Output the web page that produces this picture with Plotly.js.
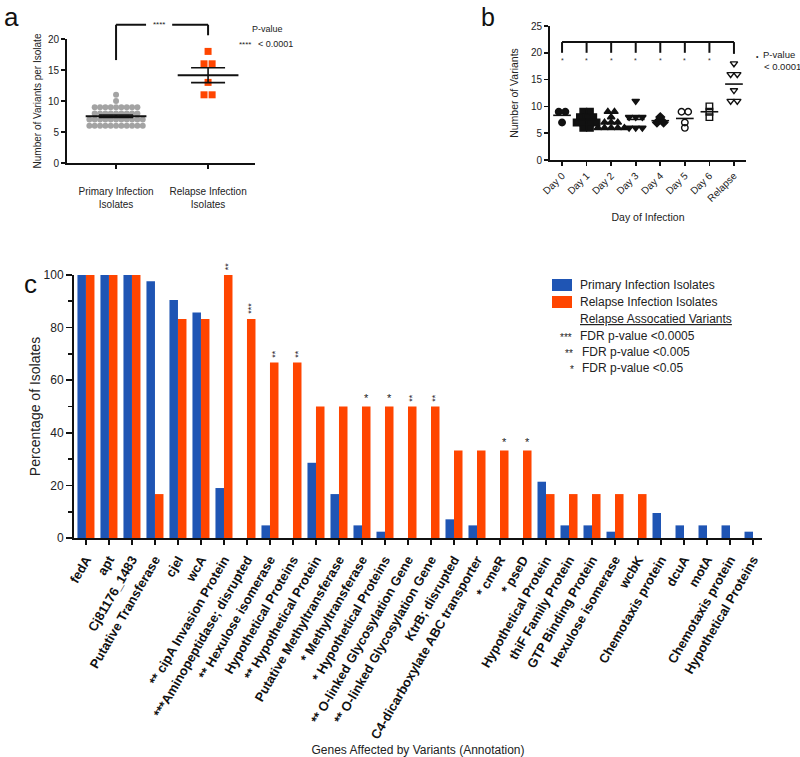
<!DOCTYPE html>
<html>
<head>
<meta charset="utf-8">
<script src="https://cdn.plot.ly/plotly-3.0.1.min.js"></script>
<style>html,body{margin:0;padding:0;background:#fff}#chart{width:800px;height:757px}</style>
</head>
<body>
<div id="chart"></div>
<script>
// ---------- Panel a / b data ----------
const dayLabels = ['Day 0', 'Day 1', 'Day 2', 'Day 3', 'Day 4', 'Day 5', 'Day 6', 'Relapse'];
const day0 = [9, 9, 7];
const day1 = [9, 9, 8, 8, 8, 7, 7, 7, 7, 6, 6];
const day2 = [9, 9, 8, 7, 7, 7, 6, 6, 6, 6, 6];
const day3 = [11, 8, 8, 8, 6, 6, 6];
const day4 = [8, 7, 7];
const day5 = [9, 9, 7, 6];
const day6 = [10, 9, 8];
const relapse = [18, 16, 16, 13, 11, 11];
const aCategories = ['Primary Infection<br>Isolates', 'Relapse Infection<br>Isolates'];

// ---------- Panel c data ----------
const genes = ['fedA', 'apt', 'Cj81176_1483', 'Putative Transferase', 'cjeI', 'wcA',
  '** cipA Invasion Protein', '***Aminopeptidase; disrupted', '** Hexulose isomerase',
  'Hypothetical Proteins', '** Hypothetical Protein', 'Putative Methyltransferase',
  '* Methyltransferase', '* Hypothetical Proteins', '** O-linked Glycosylation Gene',
  '** O-linked Glycosylation Gene', 'KtrB; disrupted', 'C4-dicarboxylate ABC transporter',
  '* cmeR', '* pseD', 'Hypothetical Protein', 'thiF Family Protein', 'GTP Binding Protein',
  'Hexulose isomerase', 'wcbK', 'Chemotaxis protein', 'dcuA', 'motA', 'Chemotaxis protein',
  'Hypothetical Proteins'];
const primaryPct = [100, 100, 100, 97.6, 90.5, 85.7, 19.0, 0, 4.8, 0, 28.6, 16.7, 4.8, 2.4, 0, 0,
  7.1, 4.8, 0, 0, 21.4, 4.8, 4.8, 2.4, 0, 9.5, 4.8, 4.8, 4.8, 2.4];
const relapsePct = [100, 100, 100, 16.7, 83.3, 83.3, 100, 83.3, 66.7, 66.7, 50, 50, 50, 50, 50, 50,
  33.3, 33.3, 33.3, 33.3, 16.7, 16.7, 16.7, 16.7, 16.7, 0, 0, 0, 0, 0];
const sigMarks = ['', '', '', '', '', '', '**', '***', '**', '**', '', '', '*', '*', '**', '**',
  '', '', '*', '*', '', '', '', '', '', '', '', '', '', ''];

// ---------- helpers ----------
const FONT = 'Liberation Sans, Arial, Helvetica, sans-serif';
const BLUE = '#1f55b4', ORANGE = '#ff4500', GRAY = '#a3a3a3';
const W = 800, H = 757;
const PX = x => x / W;
const PY = y => 1 - y / H;
function swarm(vals, center, step) {
  const counts = {}, seen = {};
  vals.forEach(v => counts[v] = (counts[v] || 0) + 1);
  return vals.map(v => {
    seen[v] = seen[v] === undefined ? 0 : seen[v] + 1;
    return center + (seen[v] - (counts[v] - 1) / 2) * step;
  });
}
const mean = a => a.reduce((s, v) => s + v, 0) / a.length;
function sem(a) {
  const m = mean(a);
  const sd = Math.sqrt(a.reduce((s, v) => s + (v - m) * (v - m), 0) / (a.length - 1));
  return sd / Math.sqrt(a.length);
}

const primary = [].concat(day0, day1, day2, day3, day4, day5, day6);
const dayGroups = [day0, day1, day2, day3, day4, day5, day6, relapse];
const daySymbols = ['circle', 'square', 'triangle-up', 'triangle-down', 'diamond', 'circle-open', 'square-open', 'triangle-down-open'];

// axis geometry
const aXdom = [PX(67), PX(255)], aYdom = [PY(163), PY(39)], aYrange = [0, 20];
const bXdom = [PX(550), PX(746)], bYdom = [PY(160), PY(26)];
const cXdom = [PX(74), PX(762)], cYdom = [PY(538), PY(275)];
const aY = v => aYdom[0] + (v - aYrange[0]) / (aYrange[1] - aYrange[0]) * (aYdom[1] - aYdom[0]);

const traces = [];
// Panel a
traces.push({type: 'scatter', mode: 'markers', xaxis: 'x', yaxis: 'y',
  x: swarm(primary, 0, 0.058), y: primary, name: 'Primary Infection Isolates',
  marker: {color: GRAY, size: 6, symbol: 'circle'}, hoverinfo: 'y'});
traces.push({type: 'scatter', mode: 'markers', xaxis: 'x', yaxis: 'y',
  x: swarm(relapse, 1, 0.088), y: relapse, name: 'Relapse Infection Isolates',
  marker: {color: ORANGE, size: 7, symbol: 'square'}, hoverinfo: 'y'});
const aMeans = [mean(primary), mean(relapse)];
traces.push({type: 'scatter', mode: 'lines', xaxis: 'x', yaxis: 'y',
  x: [-0.33, 0.33, null, 0.67, 1.33], y: [aMeans[0], aMeans[0], null, aMeans[1], aMeans[1]],
  line: {color: '#111', width: 2}, hoverinfo: 'skip'});
traces.push({type: 'scatter', mode: 'markers', xaxis: 'x', yaxis: 'y',
  x: [0, 1], y: aMeans, marker: {size: 1, color: 'rgba(0,0,0,0)'},
  error_y: {type: 'data', array: [sem(primary), sem(relapse)], visible: true, color: '#111', thickness: 1.6, width: 17},
  hoverinfo: 'skip'});

// Panel b
dayGroups.forEach((g, i) => {
  traces.push({type: 'scatter', mode: 'markers', xaxis: 'x2', yaxis: 'y2',
    x: swarm(g, i, 0.27), y: g, name: dayLabels[i],
    marker: {color: '#111', size: 6.5, symbol: daySymbols[i], line: {color: '#111', width: 1.4}}, hoverinfo: 'y'});
});
const bmx = [], bmy = [];
dayGroups.forEach((g, i) => { const m = mean(g); bmx.push(i - 0.36, i + 0.36, null); bmy.push(m, m, null); });
traces.push({type: 'scatter', mode: 'lines', xaxis: 'x2', yaxis: 'y2', x: bmx, y: bmy,
  line: {color: '#111', width: 1.6}, hoverinfo: 'skip'});

// Panel c
const idx = genes.map((g, i) => i);
traces.push({type: 'bar', xaxis: 'x3', yaxis: 'y3', x: idx, y: primaryPct, name: 'Primary Infection Isolates',
  marker: {color: BLUE, line: {width: 0}}});
traces.push({type: 'bar', xaxis: 'x3', yaxis: 'y3', x: idx, y: relapsePct, name: 'Relapse Infection Isolates',
  marker: {color: ORANGE, line: {width: 0}}});

const axisBase = {showline: true, linecolor: '#111', linewidth: 2, ticks: 'outside', tickcolor: '#111',
  tickwidth: 1.6, ticklen: 4, showgrid: false, zeroline: false, fixedrange: true,
  tickfont: {family: FONT, size: 10, color: '#222'}};

const shapes = [];
const line = (xref, yref, x0, y0, x1, y1, w) => ({type: 'line', xref, yref, x0, y0, x1, y1, line: {color: '#111', width: w || 2}});
// Panel a bracket
shapes.push(line('x', 'paper', 0, aY(16.6), 0, aY(22.3)));
shapes.push(line('x', 'paper', 0, aY(22.3), 0.326, aY(22.3)));
shapes.push(line('x', 'paper', 0.61, aY(22.3), 1, aY(22.3)));
shapes.push(line('x', 'paper', 1, aY(22.3), 1, aY(20.6)));
// Panel b bracket
shapes.push(line('x2', 'y2', 0, 22, 7, 22));
dayLabels.forEach((d, i) => shapes.push(line('x2', 'y2', i, 22, i, i === 7 ? 19.8 : 20)));
// Panel c legend boxes
shapes.push({type: 'rect', xref: 'paper', yref: 'paper', x0: PX(552), x1: PX(572), y0: PY(291), y1: PY(279), fillcolor: BLUE, line: {width: 0}});
shapes.push({type: 'rect', xref: 'paper', yref: 'paper', x0: PX(552), x1: PX(572), y0: PY(308), y1: PY(296), fillcolor: ORANGE, line: {width: 0}});

const annotations = [];
const txt = (x, y, text, size, opts) => Object.assign({xref: 'paper', yref: 'paper', x: PX(x), y: PY(y), text,
  showarrow: false, xanchor: 'left', yanchor: 'middle', font: {family: FONT, size, color: '#222'}}, opts || {});
// panel letters
annotations.push(txt(2, 17, 'a', 26, {font: {family: FONT, size: 26, color: '#111'}}));
annotations.push(txt(479, 17, 'b', 25, {font: {family: FONT, size: 25, color: '#111'}}));
annotations.push(txt(22, 284, 'c', 26, {font: {family: FONT, size: 26, color: '#111'}}));
// panel a p-value
annotations.push({xref: 'x', yref: 'paper', x: 0.47, y: aY(22.3), text: '****', showarrow: false,
  font: {family: FONT, size: 8, color: '#222'}, yanchor: 'middle'});
annotations.push(txt(250, 29, 'P-value', 9));
annotations.push(txt(237, 45, '****', 8));
annotations.push(txt(256, 44, '< 0.0001', 9));
// panel b p-value
for (let i = 0; i < 7; i++) {
  annotations.push({xref: 'x2', yref: 'y2', x: i, y: 18.6, text: '*', showarrow: false, yanchor: 'middle',
    font: {family: FONT, size: 7, color: '#333'}});
}
annotations.push(txt(754, 56, '•', 7));
annotations.push(txt(761, 55, 'P-value', 9.5));
annotations.push(txt(762, 67, '< 0.0001', 9.5));
// panel c significance marks
sigMarks.forEach((s, i) => {
  if (!s) return;
  annotations.push({xref: 'x3', yref: 'y3', x: i + 0.185, y: relapsePct[i], text: s, showarrow: false,
    yanchor: 'bottom', yshift: s.length > 1 ? 3 : 0, textangle: s.length > 1 ? -90 : 0,
    font: {family: FONT, size: s.length > 1 ? 9 : 11, color: '#222'}});
});
// panel c legend texts
annotations.push(txt(578, 285, 'Primary Infection Isolates', 12));
annotations.push(txt(578, 302, 'Relapse Infection Isolates', 12));
annotations.push(txt(578, 319, '<u>Relapse Assocatied Variants</u>', 12));
annotations.push(txt(558, 337, '***', 10));
annotations.push(txt(578, 336, 'FDR p-value <0.0005', 12));
annotations.push(txt(563, 353, '**', 10));
annotations.push(txt(580, 352, 'FDR p-value <0.005', 12));
annotations.push(txt(568, 369, '*', 10));
annotations.push(txt(580, 368, 'FDR p-value <0.05', 12));

const layout = {
  width: W, height: H, margin: {l: 0, r: 0, t: 0, b: 0},
  paper_bgcolor: '#fff', plot_bgcolor: 'rgba(0,0,0,0)', showlegend: false,
  barmode: 'group', bargap: 0.26, bargroupgap: 0,
  font: {family: FONT, color: '#222'},
  xaxis: Object.assign({}, axisBase, {domain: aXdom, anchor: 'y', range: [-0.533, 1.51],
    tickvals: [0, 1], ticktext: aCategories, ticklabelstandoff: 14}),
  yaxis: Object.assign({}, axisBase, {domain: aYdom, anchor: 'x', range: aYrange, dtick: 5, tick0: 0,
    title: {text: 'Number of Variants per Isolate', font: {family: FONT, size: 10, color: '#222'}, standoff: 4}}),
  xaxis2: Object.assign({}, axisBase, {domain: bXdom, anchor: 'y2', range: [-0.49, 7.49],
    tickvals: idx.slice(0, 8), ticktext: dayLabels, tickangle: -45,
    title: {text: 'Day of Infection', font: {family: FONT, size: 10.5, color: '#222'}, standoff: 11}}),
  yaxis2: Object.assign({}, axisBase, {domain: bYdom, anchor: 'x2', range: [0, 25], dtick: 5, tick0: 0,
    title: {text: 'Number of Variants', font: {family: FONT, size: 10.5, color: '#222'}, standoff: 10}}),
  xaxis3: Object.assign({}, axisBase, {domain: cXdom, anchor: 'y3', range: [-0.52, 29.39],
    tickvals: idx, ticktext: genes, tickangle: -60, ticklen: 5, ticklabelstandoff: 2,
    tickfont: {family: FONT, size: 13, color: '#111', weight: 'bold'},
    title: {text: 'Genes Affected by Variants (Annotation)', font: {family: FONT, size: 12, color: '#222'}, standoff: 20}}),
  yaxis3: Object.assign({}, axisBase, {domain: cYdom, anchor: 'x3', range: [0, 100], dtick: 20, tick0: 0, ticklen: 6,
    minor: {dtick: 10, ticks: 'outside', ticklen: 4, tickcolor: '#111', tickwidth: 1.6, showgrid: false},
    tickfont: {family: FONT, size: 12, color: '#222'},
    title: {text: 'Percentage of Isolates', font: {family: FONT, size: 14, color: '#222'}, standoff: 0}}),
  shapes, annotations
};

Plotly.newPlot('chart', traces, layout, {displayModeBar: false, staticPlot: true});
</script>
</body>
</html>
